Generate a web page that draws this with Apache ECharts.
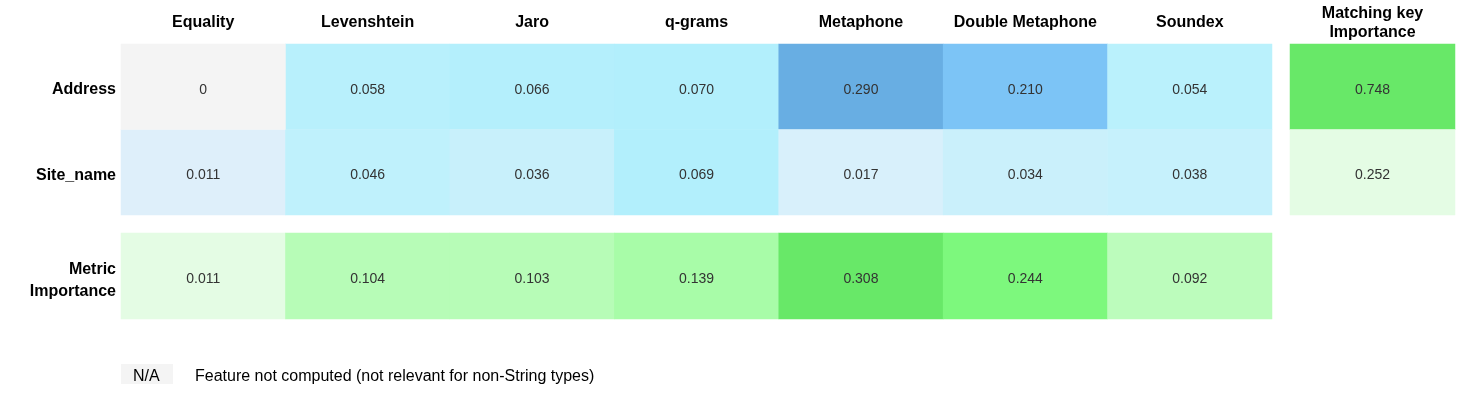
<!DOCTYPE html>
<html>
<head>
<meta charset="utf-8">
<script src="https://cdn.jsdelivr.net/npm/echarts@6/dist/echarts.min.js"></script>
<style>
    html,body{margin:0;padding:0;background:#fff;}
    #J_Main{width:1476px;height:397px;}
</style>
</head>
<body>
<div id="J_Main"></div>
<script>
// matching methods (columns) and key fields (rows)
var methods=["Equality","Levenshtein","Jaro","q-grams","Metaphone","Double Metaphone","Soundex"];
var fields=["Address","Site_name"];
var addressScores=[0,0.058,0.066,0.070,0.290,0.210,0.054];
var siteNameScores=[0.011,0.046,0.036,0.069,0.017,0.034,0.038];
var metricImportance=[0.011,0.104,0.103,0.139,0.308,0.244,0.092];
var keyImportance=[0.748,0.252];
var metricLabel=["Metric\nImportance"];
var keyLabel=["Matching key\nImportance"];

var FONT="Liberation Sans, Arial, sans-serif";
var BLUES=["#e7effa","#bcf1fc","#a2ebfc","#90dcfa","#7fc7f8","#72b9ee","#66abe0"];
var GREENS=["#e4fce4","#bffcbf","#9ffc9f","#80fa80","#68e868"];

function fmt(v){return v===0?"0":v.toFixed(3);}

var scoreCells=[],naCells=[];
[addressScores,siteNameScores].forEach(function(row,y){
    row.forEach(function(v,x){
        if(v===0){naCells.push([x,y,v]);}else{scoreCells.push([x,y,v]);}
    });
});
var metricCells=metricImportance.map(function(v,x){return [x,0,v];});
var keyCells=keyImportance.map(function(v,y){return [0,y,v];});

var cellLabel={
    show:true,
    color:"#333",
    fontSize:14,
    fontFamily:FONT,
    offset:[0,3],
    formatter:function(p){return fmt(p.data[2]);}
};
var hiddenAxis={
    axisLine:{show:false},
    axisTick:{show:false},
    splitLine:{show:false},
    splitArea:{show:false}
};
function axis(extra){
    var a=Object.assign({},hiddenAxis);
    return Object.assign(a,extra);
}
var headStyle={color:"#000",fontWeight:"bold",fontSize:16,fontFamily:FONT,lineHeight:20};

// row labels sit a little below the row centre: push them down with an empty spacer line
function rowLabel(spacer,lh){
    return {
        margin:5,
        align:"right",
        formatter:function(v){
            return "{pad| }\n"+v.split("\n").map(function(s){return "{t|"+s+"}";}).join("\n");
        },
        rich:{
            pad:{fontSize:1,lineHeight:spacer,align:"right"},
            t:{color:"#000",fontWeight:"bold",fontSize:16,fontFamily:FONT,lineHeight:lh,align:"right"}
        }
    };
}

var myChart=echarts.init(document.getElementById("J_Main"));
var option={
    animation:false,
    grid:[
        {left:121,top:44,width:1151,height:171},
        {left:121,top:233,width:1151,height:86},
        {left:1290,top:44,width:165,height:171}
    ],
    xAxis:[
        axis({type:"category",gridIndex:0,position:"top",data:methods,
            axisLabel:Object.assign({margin:11,interval:0},headStyle)}),
        axis({type:"category",gridIndex:1,data:methods,axisLabel:{show:false}}),
        axis({type:"category",gridIndex:2,position:"top",data:keyLabel,
            axisLabel:Object.assign({margin:2,interval:0},headStyle,{lineHeight:19})})
    ],
    yAxis:[
        axis({type:"category",gridIndex:0,inverse:true,data:fields,axisLabel:rowLabel(6,20)}),
        axis({type:"category",gridIndex:1,data:metricLabel,axisLabel:rowLabel(10,22)}),
        axis({type:"category",gridIndex:2,inverse:true,data:fields,axisLabel:{show:false}})
    ],
    visualMap:[
        {type:"continuous",show:false,seriesIndex:0,dimension:2,min:0,max:0.3,inRange:{color:BLUES}},
        {type:"continuous",show:false,seriesIndex:2,dimension:2,
            min:Math.min.apply(null,metricImportance),max:Math.max.apply(null,metricImportance),inRange:{color:GREENS}},
        {type:"continuous",show:false,seriesIndex:3,dimension:2,
            min:Math.min.apply(null,keyImportance),max:Math.max.apply(null,keyImportance),inRange:{color:GREENS}}
    ],
    series:[
        {type:"heatmap",xAxisIndex:0,yAxisIndex:0,data:scoreCells,label:cellLabel,itemStyle:{borderWidth:0}},
        {type:"heatmap",xAxisIndex:0,yAxisIndex:0,data:naCells,label:cellLabel,itemStyle:{color:"#f4f4f4",borderWidth:0}},
        {type:"heatmap",xAxisIndex:1,yAxisIndex:1,data:metricCells,label:cellLabel,itemStyle:{borderWidth:0}},
        {type:"heatmap",xAxisIndex:2,yAxisIndex:2,data:keyCells,label:cellLabel,itemStyle:{borderWidth:0}}
    ],
    graphic:[
        {type:"rect",left:121,top:364,shape:{width:52,height:20},style:{fill:"#f4f4f4"}},
        {type:"text",left:133,top:369,style:{text:"N/A",fill:"#000",font:"16px "+FONT}},
        {type:"text",left:195,top:369,style:{text:"Feature not computed (not relevant for non-String types)",fill:"#000",font:"16px "+FONT}}
    ]
};
myChart.setOption(option);
</script>
</body>
</html>
